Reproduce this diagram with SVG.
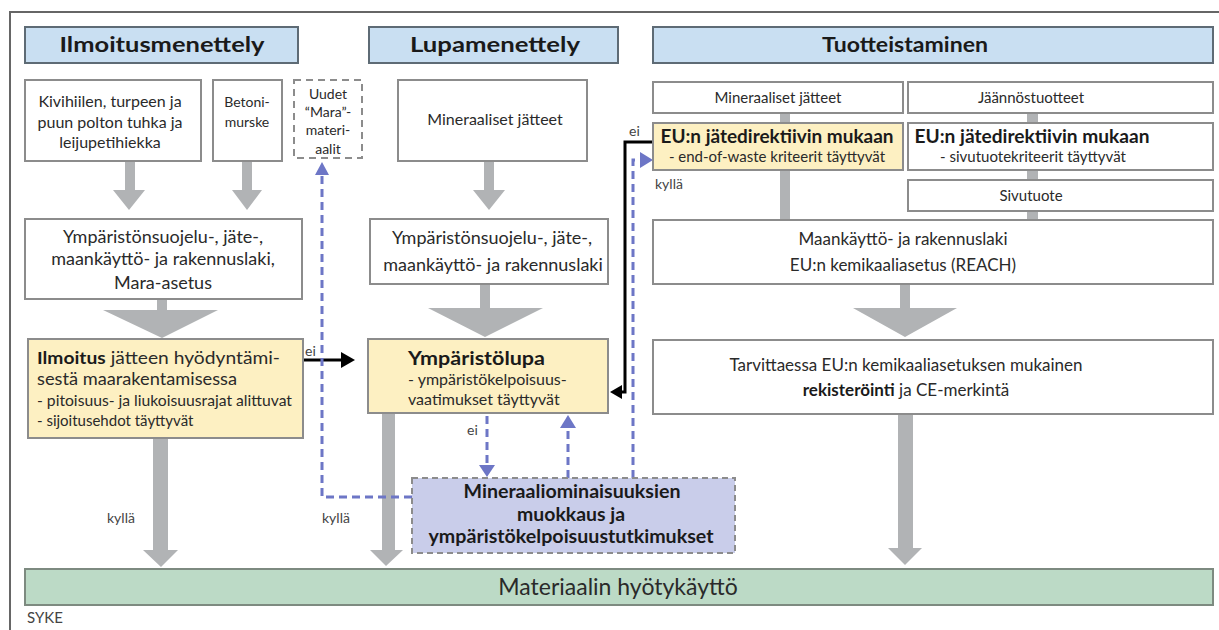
<svg xmlns="http://www.w3.org/2000/svg" width="1219" height="630" viewBox="0 0 1219 630">
<defs>
<style>
text{font-family:Lato,"Open Sans","Liberation Sans",sans-serif;fill:#2a2a2a}
.hd{fill:#c9dff2;stroke:#5e6b75;stroke-width:2}
.bx{fill:#fff;stroke:#8c8c8c;stroke-width:2}
.yb{fill:#fdf0c2;stroke:#8c8c8c;stroke-width:2}
.ht{font-size:21px;font-weight:bold;text-anchor:middle;fill:#1a1a1a}
.t{font-size:16px;text-anchor:middle}
.tl{font-size:18px;text-anchor:middle}
.s{font-size:14px}
.m{font-size:15px}
.b{font-weight:bold;fill:#1a1a1a}
.ga{fill:#b1b3b5}
.bl{fill:none;stroke:#6d76c6;stroke-width:3;stroke-dasharray:8 5}
.bh{fill:#6d76c6}
.lb{font-size:14px;fill:#444}
</style>
</defs>
<rect width="1219" height="630" fill="#fff"/>
<path d="M10,630 V12 H1219" fill="none" stroke="#666" stroke-width="2"/>

<g id="headers">
<g id="h-ilmoitus"><rect class="hd" x="25" y="27" width="273" height="36"/><text class="ht" x="162" y="52" textLength="205" lengthAdjust="spacingAndGlyphs">Ilmoitusmenettely</text></g>
<g id="h-lupa"><rect class="hd" x="369" y="27" width="249" height="36"/><text class="ht" x="495" y="52" textLength="170" lengthAdjust="spacingAndGlyphs">Lupamenettely</text></g>
<g id="h-tuote"><rect class="hd" x="653" y="27" width="560" height="36"/><text class="ht" x="905" y="52" textLength="166" lengthAdjust="spacingAndGlyphs">Tuotteistaminen</text></g>
</g>

<g id="connectors">
<polygon class="ga" points="125,161 135,161 135,190 145,190 129,210 113,190 125,190"/>
<polygon class="ga" points="242,161 252,161 252,190 262,190 247,210 232,190 242,190"/>
<polygon class="ga" points="157,299 167,299 167,310 218,310 162,338 103,310 157,310"/>
<polygon class="ga" points="153,438 168,438 168,550 178,550 161,567 143,550 153,550"/>
<polygon class="ga" points="484,161 494,161 494,190 505,190 489,210 473,190 484,190"/>
<polygon class="ga" points="480,284 490,284 490,308 543,308 485,337 428,308 480,308"/>
<polygon class="ga" points="382,413 395,413 395,550 403,550 386,566 370,550 382,550"/>
<polygon class="ga" points="900,284 910,284 910,308 957,308 905,337 853,308 900,308"/>
<polygon class="ga" points="898,414 913,414 913,548 922,548 905,565 888,548 898,548"/>
<rect class="ga" x="780" y="113" width="10" height="10"/>
<rect class="ga" x="780" y="170" width="10" height="50"/>
<rect class="ga" x="1027" y="113" width="11" height="10"/>
<rect class="ga" x="1027" y="170" width="11" height="10"/>
<rect class="ga" x="1027" y="211" width="11" height="9"/>
<line x1="303" y1="360" x2="342" y2="360" stroke="#000" stroke-width="3"/>
<polygon points="355,360 341,352 341,368" fill="#000"/>
<polyline points="653,142 625,142 625,392 620,392" fill="none" stroke="#000" stroke-width="3"/>
<polygon points="610,392 622,385 622,399" fill="#000"/>
<polyline class="bl" points="412,497 322,497 322,175"/>
<polygon class="bh" points="322,162 315,175 329,175"/>
<line class="bl" x1="487" y1="416" x2="487" y2="466"/>
<polygon class="bh" points="487,477 479,465 495,465"/>
<line class="bl" x1="568" y1="478" x2="568" y2="428"/>
<polygon class="bh" points="568,415 560,428 576,428"/>
<polyline class="bl" points="633,478 633,160 641,160"/>
<polygon class="bh" points="653,160 640,152 640,168"/>
<text class="lb" x="305" y="356">ei</text>
<text class="lb" x="467" y="435">ei</text>
<text class="lb" x="629" y="136">ei</text>
<text class="lb" x="107" y="523">kyllä</text>
<text class="lb" x="322" y="523">kyllä</text>
<text class="lb" x="655" y="189">kyllä</text>
</g>

<g id="n-kivihiili"><rect class="bx" x="25" y="80" width="176" height="81"/>
<text class="t" x="110" y="107">Kivihiilen, turpeen ja</text><text class="t" x="110" y="128">puun polton tuhka ja</text><text class="t" x="110" y="148">leijupetihiekka</text></g>
<g id="n-betoni"><rect class="bx" x="213" y="80" width="69" height="81"/>
<text class="s" text-anchor="middle" x="247" y="107">Betoni-</text><text class="s" text-anchor="middle" x="247" y="127">murske</text></g>
<g id="n-uudet"><rect x="294" y="80" width="68" height="78" fill="#fff" stroke="#8c8c8c" stroke-width="2" stroke-dasharray="7 5"/>
<text class="s" text-anchor="middle" x="328" y="99">Uudet</text><text class="s" text-anchor="middle" x="328" y="117">“Mara”-</text><text class="s" text-anchor="middle" x="328" y="135">materi-</text><text class="s" text-anchor="middle" x="328" y="154">aalit</text></g>
<g id="n-lakileft"><rect class="bx" x="25" y="219" width="277" height="80"/>
<text class="tl" x="163" y="243">Ympäristönsuojelu-, jäte-,</text><text class="tl" x="163" y="265">maankäyttö- ja rakennuslaki,</text><text class="tl" x="163" y="289">Mara-asetus</text></g>
<g id="n-ilmoitus"><rect class="yb" x="28" y="339" width="275" height="99"/>
<text x="37" y="364" style="font-size:17px" textLength="243" lengthAdjust="spacingAndGlyphs"><tspan class="b">Ilmoitus</tspan> jätteen hyödyntämi-</text>
<text x="37" y="385" style="font-size:17px" textLength="200" lengthAdjust="spacingAndGlyphs">sestä maarakentamisessa</text>
<text class="m" x="37" y="406" textLength="255" lengthAdjust="spacingAndGlyphs">- pitoisuus- ja liukoisuusrajat alittuvat</text>
<text class="m" x="37" y="426">- sijoitusehdot täyttyvät</text></g>

<g id="n-minlupa"><rect class="bx" x="398" y="80" width="189" height="81"/><text class="t" x="495" y="125">Mineraaliset jätteet</text></g>
<g id="n-lakilupa"><rect class="bx" x="370" y="219" width="238" height="65"/>
<text class="tl" x="492" y="244">Ympäristönsuojelu-, jäte-,</text><text class="tl" x="493" y="271">maankäyttö- ja rakennuslaki</text></g>
<g id="n-ymplupa"><rect class="yb" x="368" y="339" width="240" height="74"/>
<text class="b" x="408" y="365" style="font-size:19px" textLength="137" lengthAdjust="spacingAndGlyphs">Ympäristölupa</text>
<text x="408" y="385" style="font-size:16px">- ympäristökelpoisuus-</text>
<text x="408" y="405" style="font-size:16px">vaatimukset täyttyvät</text></g>
<g id="n-muokkaus"><rect x="412" y="478" width="323" height="75" fill="#c9cdea" stroke="#8c8c8c" stroke-width="2" stroke-dasharray="6 4"/>
<text class="tl b" x="572" y="498" style="font-size:18px" textLength="217" lengthAdjust="spacingAndGlyphs">Mineraaliominaisuuksien</text><text class="tl b" x="571" y="521" style="font-size:18px" textLength="108" lengthAdjust="spacingAndGlyphs">muokkaus ja</text><text class="tl b" x="571" y="543" style="font-size:18px" textLength="285" lengthAdjust="spacingAndGlyphs">ympäristökelpoisuustutkimukset</text></g>

<g id="n-mintuote"><rect class="bx" x="653" y="82" width="250" height="31"/><text class="m" text-anchor="middle" x="778" y="103">Mineraaliset jätteet</text></g>
<g id="n-jaannos"><rect class="bx" x="908" y="82" width="305" height="31"/><text class="m" text-anchor="middle" x="1031" y="103">Jäännöstuotteet</text></g>
<g id="n-euwaste"><rect class="yb" x="653" y="123" width="250" height="47"/>
<text class="b" text-anchor="middle" x="777" y="143" style="font-size:19px" textLength="233" lengthAdjust="spacingAndGlyphs">EU:n jätedirektiivin mukaan</text>
<text class="m" text-anchor="middle" x="777" y="162">- end-of-waste kriteerit täyttyvät</text></g>
<g id="n-eusivu"><rect class="bx" x="908" y="123" width="305" height="47"/>
<text class="b" text-anchor="middle" x="1032" y="143" style="font-size:19px" textLength="235" lengthAdjust="spacingAndGlyphs">EU:n jätedirektiivin mukaan</text>
<text class="m" text-anchor="middle" x="1033" y="162">- sivutuotekriteerit täyttyvät</text></g>
<g id="n-sivutuote"><rect class="bx" x="908" y="180" width="305" height="31"/><text class="m" text-anchor="middle" x="1031" y="201">Sivutuote</text></g>
<g id="n-maankaytto"><rect class="bx" x="653" y="220" width="560" height="64"/>
<text class="t" x="903" y="245" style="font-size:17px">Maankäyttö- ja rakennuslaki</text><text class="t" x="903" y="271" style="font-size:17px">EU:n kemikaaliasetus (REACH)</text></g>
<g id="n-rekisteri"><rect class="bx" x="653" y="340" width="560" height="74"/>
<text class="t" x="906" y="371" style="font-size:17px">Tarvittaessa EU:n kemikaaliasetuksen mukainen</text>
<text class="t" x="906" y="396" style="font-size:17px"><tspan class="b">rekisteröinti</tspan> ja CE-merkintä</text></g>

<g id="n-hyotykaytto"><rect x="25" y="569" width="1188" height="36" fill="#bcdac6" stroke="#7d8a80" stroke-width="2"/>
<text x="618" y="595" text-anchor="middle" style="font-size:23px">Materiaalin hyötykäyttö</text></g>
<text x="27" y="623" style="font-size:15px;fill:#444">SYKE</text>
</svg>
